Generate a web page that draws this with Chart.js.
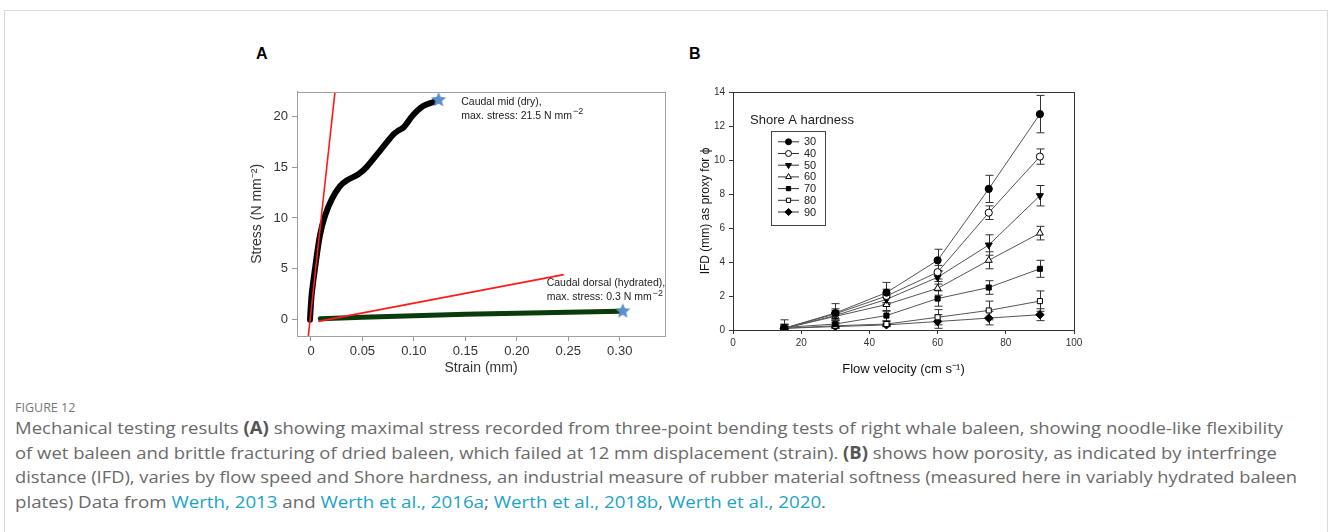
<!DOCTYPE html>
<html>
<head>
<meta charset="utf-8">
<script src="https://cdn.jsdelivr.net/npm/chart.js@4.4.1/dist/chart.umd.min.js"></script>
<style>
  body { margin: 0; width: 1328px; height: 532px; overflow: hidden; background: #fff; position: relative; font-family: 'Liberation Sans', Arial, sans-serif; }
  .card { position: absolute; left: 4px; top: 10px; width: 1322px; height: 540px; border: 1px solid #dadada; border-bottom: none; }
  .panel { position: absolute; font-weight: bold; font-size: 16px; color: #000; }
  #wrapA { position: absolute; left: 240px; top: 80px; width: 440px; height: 300px; }
  #wrapB { position: absolute; left: 680px; top: 80px; width: 420px; height: 300px; }
  .fig { position: absolute; left: 15px; top: 399px; font-family: 'Open Sans', sans-serif; font-size: 12.5px; color: #777; }
  .cap { position: absolute; left: 15px; top: 416px; font-family: 'Open Sans', sans-serif; font-size: 17px; line-height: 24.5px; color: #6a6a6a; white-space: nowrap; }
  .cap .ln { display: inline-block; transform-origin: 0 50%; }
  .cap a { color: #1ba3c6; text-decoration: none; }
  .cap b { color: #555; }
</style>
</head>
<body>
<div class="card"></div>
<div class="panel" style="left:256px;top:45px;">A</div>
<div class="panel" style="left:689px;top:45px;">B</div>
<div id="wrapA"><canvas id="chartA"></canvas></div>
<div id="wrapB"><canvas id="chartB"></canvas></div>
<div class="fig">FIGURE 12</div>
<div class="cap" id="cap">
  <span class="ln">Mechanical testing results <b>(A)</b> showing maximal stress recorded from three-point bending tests of right whale baleen, showing noodle-like flexibility</span><br>
  <span class="ln">of wet baleen and brittle fracturing of dried baleen, which failed at 12 mm displacement (strain). <b>(B)</b> shows how porosity, as indicated by interfringe</span><br>
  <span class="ln">distance (IFD), varies by flow speed and Shore hardness, an industrial measure of rubber material softness (measured here in variably hydrated baleen</span><br>
  <span class="ln">plates) Data from <a>Werth, 2013</a> and <a>Werth et al., 2016a</a>; <a>Werth et al., 2018b</a>, <a>Werth et al., 2020</a>.</span>
</div>
<script>
// ---- panel A data ----
var dryStrain = [-0.001, 0.0007, 0.004, 0.0087, 0.0136, 0.020, 0.028, 0.035, 0.046, 0.054, 0.067, 0.080, 0.085, 0.090, 0.099, 0.109, 0.119];
var dryStress = [0, 2.5, 5.1, 8.3, 10.2, 11.8, 13.1, 13.7, 14.3, 15.0, 16.6, 18.2, 18.6, 18.9, 20.1, 21.0, 21.4];
var wetStrain = [0.009, 0.05, 0.10, 0.15, 0.20, 0.25, 0.30];
var wetStress = [0.1, 0.25, 0.4, 0.53, 0.64, 0.74, 0.84];
var fitDryStrain = [-0.0026, 0.0233];
var fitDryStress = [-1.6, 22.4];
var fitWetStrain = [0.0071, 0.2456];
var fitWetStress = [-0.16, 4.43];
var maxStrain = [0.124, 0.303];
var maxStress = [21.6, 0.83];
var strainTicks = [0, 0.05, 0.10, 0.15, 0.20, 0.25, 0.30];
var strainLabels = ['0', '0.05', '0.10', '0.15', '0.20', '0.25', '0.30'];
var stressTicks = [0, 5, 10, 15, 20];

// ---- panel B data ----
var velocity = [15, 30, 45, 60, 75, 90];
var hardness = ['30', '40', '50', '60', '70', '80', '90'];
var ifd30 = [0.1, 1.0, 2.2, 4.1, 8.3, 12.7];
var ifd40 = [0.1, 0.95, 2.0, 3.4, 6.9, 10.2];
var ifd50 = [0.1, 0.85, 1.8, 3.1, 5.0, 7.9];
var ifd60 = [0.1, 0.8, 1.5, 2.45, 4.1, 5.7];
var ifd70 = [0.15, 0.35, 0.85, 1.85, 2.5, 3.6];
var ifd80 = [0.1, 0.25, 0.35, 0.75, 1.15, 1.7];
var ifd90 = [0.1, 0.2, 0.3, 0.5, 0.7, 0.9];
var err30 = [0.5, 0.55, 0.6, 0.65, 0.8, 1.1];
var err40 = [0.2, 0.3, 0.4, 0.4, 0.4, 0.45];
var err50 = [0.2, 0.3, 0.3, 0.4, 0.6, 0.6];
var err60 = [0.2, 0.2, 0.4, 0.4, 0.5, 0.4];
var err70 = [0.2, 0.2, 0.3, 0.45, 0.4, 0.5];
var err80 = [0.1, 0.15, 0.15, 0.45, 0.55, 0.6];
var err90 = [0.1, 0.1, 0.1, 0.4, 0.4, 0.35];

var captionWidths = [1268, 1262, 1282, 811];

var FONT = "'Liberation Sans', Arial, sans-serif";

function xy(xs, ys) {
  return xs.map(function(x, i) { return { x: x, y: ys[i] }; });
}

function makeStar(r, color) {
  var c = document.createElement('canvas');
  c.width = c.height = r * 2 + 2;
  var g = c.getContext('2d');
  g.beginPath();
  for (var i = 0; i < 10; i++) {
    var a = -Math.PI / 2 + i * Math.PI / 5;
    var rr = i % 2 ? r * 0.45 : r;
    g.lineTo(r + 1 + rr * Math.cos(a), r + 1 + rr * Math.sin(a));
  }
  g.closePath();
  g.fillStyle = color;
  g.fill();
  return c;
}

// box around the plot area
function framePlugin(color) {
  return {
    id: 'frame',
    afterDraw: function(chart) {
      var a = chart.chartArea, ctx = chart.ctx;
      ctx.save();
      ctx.strokeStyle = color;
      ctx.lineWidth = 1;
      ctx.strokeRect(Math.round(a.left) + 0.5, Math.round(a.top) + 0.5, Math.round(a.right - a.left), Math.round(a.bottom - a.top));
      ctx.restore();
    }
  };
}

// text next to the two maximum points
var notesA = {
  id: 'notesA',
  afterDraw: function(chart) {
    var ctx = chart.ctx, xs = chart.scales.x, ys = chart.scales.y;
    function note(sx, sy, l1, l2) {
      var px = xs.getPixelForValue(sx), py = ys.getPixelForValue(sy);
      ctx.save();
      ctx.fillStyle = '#222';
      ctx.textBaseline = 'middle';
      ctx.font = '10.5px ' + FONT;
      ctx.fillText(l1, px, py);
      ctx.fillText(l2, px, py + 14);
      var w = ctx.measureText(l2).width;
      ctx.font = '9px ' + FONT;
      ctx.fillText('\u22122', px + w + 1, py + 10);
      ctx.restore();
    }
    note(0.146, 21.4, 'Caudal mid (dry),', 'max. stress: 21.5 N mm');
    note(0.229, 3.6, 'Caudal dorsal (hydrated),', 'max. stress: 0.3 N mm');
  }
};

var star = makeStar(8, '#5b8fcb');

new Chart(document.getElementById('chartA'), {
  type: 'line',
  data: {
    datasets: [
      { data: xy(maxStrain, maxStress), showLine: false, pointStyle: star, pointRadius: 8, order: 0 },
      { data: xy(fitDryStrain, fitDryStress), borderColor: '#ff1a1a', borderWidth: 1.6, pointRadius: 0, order: 1 },
      { data: xy(fitWetStrain, fitWetStress), borderColor: '#ff1a1a', borderWidth: 1.6, pointRadius: 0, order: 1 },
      { data: xy(dryStrain, dryStress), borderColor: '#000', borderWidth: 6, pointRadius: 0, tension: 0.3, borderCapStyle: 'round', order: 2 },
      { data: xy(wetStrain, wetStress), borderColor: '#0b3b0b', borderWidth: 5, pointRadius: 0, borderCapStyle: 'round', order: 2 }
    ]
  },
  options: {
    responsive: true,
    maintainAspectRatio: false,
    animation: false,
    layout: { padding: { left: 0, top: 7, right: 15, bottom: 0 } },
    plugins: { legend: { display: false }, tooltip: { enabled: false } },
    scales: {
      x: {
        type: 'linear', min: -0.0136, max: 0.344,
        afterBuildTicks: function(s) { s.ticks = strainTicks.map(function(v) { return { value: v }; }); },
        afterFit: function(s) { s.height = 44; },
        ticks: {
          padding: 3, color: '#333', font: { family: FONT, size: 13 },
          callback: function(v) { var i = strainTicks.indexOf(v); return i >= 0 ? strainLabels[i] : ''; }
        },
        grid: { drawOnChartArea: false, tickLength: 5, color: '#999' },
        border: { color: '#999' },
        title: { display: true, text: 'Strain (mm)', color: '#333', font: { family: FONT, size: 14 }, padding: { top: 0, bottom: 3 } }
      },
      y: {
        type: 'linear', min: -1.6, max: 22.4,
        afterBuildTicks: function(s) { s.ticks = stressTicks.map(function(v) { return { value: v }; }); },
        afterFit: function(s) { s.width = 57; },
        ticks: { padding: 4, color: '#333', font: { family: FONT, size: 13 } },
        grid: { drawOnChartArea: false, tickLength: 5, color: '#999' },
        border: { color: '#999' },
        title: { display: true, text: 'Stress (N mm\u207B\u00B2)', color: '#333', font: { family: FONT, size: 14 }, padding: { top: 9, bottom: 0 } }
      }
    }
  },
  plugins: [framePlugin('#a0a0a0'), notesA]
});

// ---- panel B ----
var seriesB = [ifd30, ifd40, ifd50, ifd60, ifd70, ifd80, ifd90];
var errorsB = [err30, err40, err50, err60, err70, err80, err90];
var markStyle = ['circle', 'circle', 'triangle', 'triangle', 'rect', 'rect', 'rectRot'];
var markFill = ['#000', '#fff', '#000', '#fff', '#000', '#fff', '#000'];
var markRot = [0, 0, 180, 0, 0, 0, 0];
var markSize = [3.6, 3.6, 4, 4, 3.6, 3.6, 4.2];

var errorBars = {
  id: 'errorBars',
  beforeDatasetsDraw: function(chart) {
    var ctx = chart.ctx, xs = chart.scales.x, ys = chart.scales.y;
    ctx.save();
    ctx.strokeStyle = '#333';
    ctx.lineWidth = 1;
    errorsB.forEach(function(errs, k) {
      errs.forEach(function(e, i) {
        var px = Math.round(xs.getPixelForValue(velocity[i])) + 0.5;
        var top = ys.getPixelForValue(seriesB[k][i] + e);
        var bot = ys.getPixelForValue(Math.max(seriesB[k][i] - e, 0));
        ctx.beginPath();
        ctx.moveTo(px, top); ctx.lineTo(px, bot);
        ctx.moveTo(px - 4, top); ctx.lineTo(px + 4, top);
        ctx.moveTo(px - 4, bot); ctx.lineTo(px + 4, bot);
        ctx.stroke();
      });
    });
    ctx.restore();
  }
};

var legendB = {
  id: 'legendB',
  afterDraw: function(chart) {
    var ctx = chart.ctx, a = chart.chartArea;
    var bx = a.left + 38, by = a.top + 38.5, bw = 54, bh = 94;
    ctx.save();
    ctx.fillStyle = '#222';
    ctx.textBaseline = 'middle';
    ctx.font = '13px ' + FONT;
    ctx.fillText('Shore A hardness', a.left + 17, a.top + 28.5);
    ctx.strokeStyle = '#444';
    ctx.lineWidth = 1;
    ctx.strokeRect(Math.round(bx) + 0.5, Math.round(by) + 0.5, bw, bh);
    ctx.font = '11px ' + FONT;
    hardness.forEach(function(h, i) {
      var y = by + 11.3 + i * 11.7;
      ctx.strokeStyle = '#333';
      ctx.beginPath();
      ctx.moveTo(bx + 7, y); ctx.lineTo(bx + 28, y);
      ctx.stroke();
      ctx.fillStyle = markFill[i];
      ctx.strokeStyle = '#000';
      Chart.helpers.drawPoint(ctx, { pointStyle: markStyle[i], radius: markSize[i] - 0.6, rotation: markRot[i], borderWidth: 1 }, bx + 17.5, y);
      ctx.fillStyle = '#222';
      ctx.fillText(h, bx + 33, y + 0.5);
    });
    ctx.restore();
  }
};

new Chart(document.getElementById('chartB'), {
  type: 'line',
  data: {
    datasets: seriesB.map(function(s, k) {
      return {
        label: hardness[k],
        data: xy(velocity, s),
        borderColor: '#555',
        borderWidth: 1,
        pointStyle: markStyle[k],
        pointRotation: markRot[k],
        pointRadius: markSize[k],
        pointBackgroundColor: markFill[k],
        pointBorderColor: '#000',
        pointBorderWidth: 1,
        tension: 0
      };
    })
  },
  options: {
    responsive: true,
    maintainAspectRatio: false,
    animation: false,
    layout: { padding: { left: 0, top: 12, right: 26, bottom: 0 } },
    plugins: { legend: { display: false }, tooltip: { enabled: false } },
    scales: {
      x: {
        type: 'linear', min: 0, max: 100,
        afterFit: function(s) { s.height = 50; },
        ticks: { stepSize: 20, padding: 3, color: '#333', font: { family: FONT, size: 10 } },
        grid: { drawOnChartArea: false, tickLength: 4, color: '#333' },
        border: { color: '#333' },
        title: { display: true, text: 'Flow velocity (cm s\u207B\u00B9)', color: '#111', font: { family: FONT, size: 13 }, padding: { top: 0, bottom: 3 } }
      },
      y: {
        type: 'linear', min: 0, max: 14,
        afterFit: function(s) { s.width = 53; },
        ticks: { stepSize: 2, padding: 4, color: '#333', font: { family: FONT, size: 10 } },
        grid: { drawOnChartArea: false, tickLength: 4, color: '#333' },
        border: { color: '#333' },
        title: { display: true, text: 'IFD (mm) as proxy for \u03D5', color: '#111', font: { family: FONT, size: 12 }, padding: { top: 18, bottom: 0 } }
      }
    }
  },
  plugins: [framePlugin('#333'), errorBars, legendB]
});

// squeeze each caption line to the reference width (the original face is narrower)
(function() {
  var lines = document.querySelectorAll('#cap .ln');
  for (var i = 0; i < lines.length; i++) {
    var w = lines[i].getBoundingClientRect().width;
    lines[i].style.transform = 'scaleX(' + (captionWidths[i] / w).toFixed(4) + ')';
  }
})();
</script>
</body>
</html>
